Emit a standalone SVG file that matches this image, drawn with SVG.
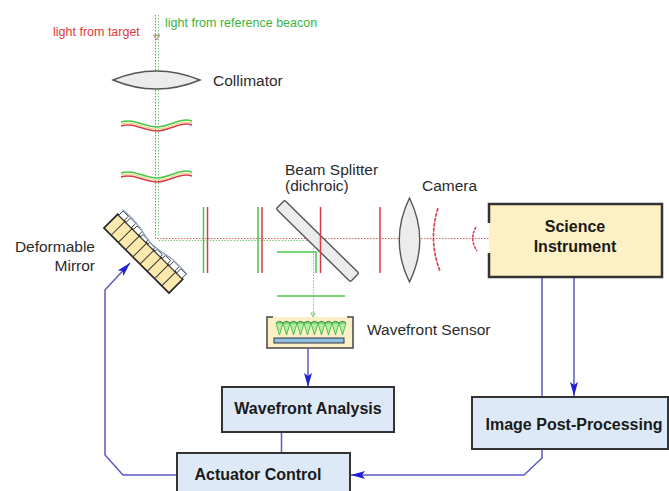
<svg xmlns="http://www.w3.org/2000/svg" width="669" height="491" viewBox="0 0 669 491">
  <style>
    text { font-family: "Liberation Sans", Arial, Helvetica, sans-serif; }
    .lbl { font-size: 15.5px; fill: #2b2b2b; }
    .bold { font-size: 16px; font-weight: bold; fill: #1a1a1a; }
    .small { font-size: 12.5px; }
    .box { fill: #dde9f7; stroke: #333; stroke-width: 2; }
    .link { fill: none; stroke: #5a5ac8; stroke-width: 1.5; }
    .beamR { fill: none; stroke: #d86060; stroke-width: 1; stroke-dasharray: 1.5 1.5; }
    .beamG { fill: none; stroke: #7ccc7c; stroke-width: 1; stroke-dasharray: 1.5 1.5; }
    .red { fill: none; stroke: #d83c4c; stroke-width: 1.5; }
    .green { fill: none; stroke: #48c848; stroke-width: 1.5; }
    .glass { fill: #ececec; stroke: #555; stroke-width: 1.4; }
  </style>
  <defs>
    <marker id="arrow" viewBox="0 0 14 8" refX="14" refY="4" markerWidth="14" markerHeight="8" markerUnits="userSpaceOnUse" orient="auto">
      <path d="M0,0 L14,4 L0,8 L3,4 z" fill="#2020d8"/>
    </marker>
  </defs>

  <rect width="669" height="491" fill="#ffffff"/>

  <!-- incoming light -->
  <text class="small" x="53" y="36" fill="#e03a3a">light from target</text>
  <text class="small" x="165" y="27" fill="#3cb43c">light from reference beacon</text>

  <!-- beam paths -->
  <g id="beams">
    <path class="beamR" d="M155.5,15 V238.5 H492"/>
    <path class="beamG" d="M158.5,15 V236 M158.5,240.5 H313.5 V316"/>
    <path d="M153.5,35 L160,35 L156.7,40 z" fill="none" stroke="#d86060" stroke-width="0.8"/>
    <path d="M155,35.5 L159,35.5 L157,38.5" fill="none" stroke="#60c060" stroke-width="0.8"/>
  </g>

  <!-- collimator -->
  <g id="collimator">
    <path class="glass" d="M113,80 Q156,62 200,80 Q156,98 113,80 z"/>
    <text class="lbl" x="213" y="86">Collimator</text>
  </g>

  <!-- distorted wavefronts -->
  <g id="wavefronts">
    <path class="green" d="M121,122 C133,118 145,127 157,127 C169,127 180,117 192,121"/>
    <path d="M121,124 C133,120 145,129 157,129 C169,129 180,119 192,123" fill="none" stroke="#e8d070" stroke-width="1"/>
    <path class="red" d="M121,126 C133,122 145,131 157,131 C169,131 180,121 192,125"/>
    <path class="green" d="M121,173 C133,169 145,178 157,178 C169,178 180,168 192,172"/>
    <path d="M121,175 C133,171 145,180 157,180 C169,180 180,170 192,174" fill="none" stroke="#e8d070" stroke-width="1"/>
    <path class="red" d="M121,177 C133,173 145,182 157,182 C169,182 180,172 192,176"/>
  </g>

  <!-- deformable mirror -->
  <g id="deformable-mirror">
    <g transform="translate(146,251) rotate(45)">
      <rect x="-46" y="-6" width="92" height="19.5" fill="#fbe9ae" stroke="#2a2a2a" stroke-width="1.7"/>
      <path d="M-35.8,-6 V13.5 M-25.6,-6 V13.5 M-15.3,-6 V13.5 M-5.1,-6 V13.5 M5.1,-6 V13.5 M15.3,-6 V13.5 M25.6,-6 V13.5 M35.8,-6 V13.5" stroke="#3a3a3a" stroke-width="1"/>
      <g fill="#ffffff" stroke="#333" stroke-width="0.9">
        <rect x="-44.5" y="-12" width="7.5" height="6"/>
        <rect x="-34.3" y="-12.5" width="7.5" height="6.5"/>
        <rect x="-24" y="-11.5" width="7.5" height="5.5"/>
        <rect x="-13.8" y="-9.5" width="7.5" height="3.5"/>
        <rect x="-3.6" y="-8.5" width="7.5" height="2.5"/>
        <rect x="6.6" y="-9" width="7.5" height="3"/>
        <rect x="16.8" y="-10.5" width="7.5" height="4.5"/>
        <rect x="27" y="-12.5" width="7.5" height="6.5"/>
        <rect x="37.2" y="-12" width="7.5" height="6"/>
      </g>
      <path d="M-46,-12.5 C-38,-13.5 -30,-13.5 -20,-12 C-12,-10.5 -6,-8.5 0,-9 C8,-9.5 14,-11 22,-12.5 C30,-13.5 38,-13 46,-12.5" fill="none" stroke="#8ea4c4" stroke-width="1.3"/>
    </g>
    <text class="lbl" x="95" y="252" text-anchor="end">Deformable</text>
    <text class="lbl" x="95" y="271" text-anchor="end">Mirror</text>
  </g>

  <!-- relay plates -->
  <g id="plates">
    <path class="green" d="M203.5,207 V273 M258,207 V273"/>
    <path class="red" d="M207.5,207 V273 M262,207 V273"/>
  </g>

  <!-- beam splitter -->
  <g id="beam-splitter">
    <rect x="-52" y="-6" width="104" height="12" rx="1.5" class="glass" transform="translate(317.5,241) rotate(44.5)"/>
    <path class="red" d="M320.5,207 V273"/>
    <path class="green" d="M277,252 H316 V273"/>
    <path class="green" d="M277,296 H345"/>
    <text class="lbl" x="285" y="175">Beam Splitter</text>
    <text class="lbl" x="285" y="191">(dichroic)</text>
  </g>

  <!-- camera optics -->
  <g id="camera">
    <path class="red" d="M380,207 V273"/>
    <path class="glass" d="M409.5,198 Q389,240 409.5,282 Q430,240 409.5,198 z"/>
    <path d="M438,208 Q428,240 440,271" fill="none" stroke="#d83c4c" stroke-width="1.6" stroke-dasharray="4 1"/>
    <path d="M476,227 Q469,239 477,251" fill="none" stroke="#d83c4c" stroke-width="1.5" stroke-dasharray="3 1"/>
    <path d="M492,236 L500,238.5 L492,241 z" fill="none" stroke="#e08850" stroke-width="1"/>
    <text class="lbl" x="422" y="191">Camera</text>
  </g>

  <!-- wavefront sensor -->
  <g id="wavefront-sensor">
    <rect x="267" y="317" width="86" height="31" fill="#fdf0c8"/>
    <path d="M273,317 H267 V348 H353 V317 H347" fill="none" stroke="#444" stroke-width="1.5"/>
    <path d="M276,323 L279.5,335 L283,323 L286.5,335 L290,323 L293.5,335 L297,323 L300.5,335 L304,323 L307.5,335 L311,323 L314.5,335 L318,323 L321.5,335 L325,323 L328.5,335 L332,323 L335.5,335 L339,323 L342.5,335 L346,323 z" fill="#b6f0a8" stroke="#40b840" stroke-width="0.9"/>
    <path d="M276,323 Q279.5,319.5 283,323 Q286.5,319.5 290,323 Q293.5,319.5 297,323 Q300.5,319.5 304,323 Q307.5,319.5 311,323 Q314.5,319.5 318,323 Q321.5,319.5 325,323 Q328.5,319.5 332,323 Q335.5,319.5 339,323 Q342.5,319.5 346,323" fill="#7cc87c" stroke="#3a8a3a" stroke-width="0.9"/>
    <rect x="274" y="338" width="70" height="5" fill="#8ec0e0" stroke="#334" stroke-width="1"/>
    <path d="M311,313 L315,313 L313,317 z" fill="none" stroke="#60c060" stroke-width="0.8"/>
    <text class="lbl" x="367" y="335">Wavefront Sensor</text>
  </g>

  <!-- control connectors -->
  <g id="connectors">
    <path class="link" d="M308,348 V387" marker-end="url(#arrow)"/>
    <path class="link" d="M281.5,432 V453"/>
    <path class="link" d="M574,277 V396" marker-end="url(#arrow)"/>
    <path class="link" d="M542,277 V458 L524,475 H351" marker-end="url(#arrow)"/>
    <path class="link" d="M177,475 H123 L105,455 V290 L130,263" marker-end="url(#arrow)"/>
  </g>

  <!-- processing nodes -->
  <g id="science-instrument">
    <rect x="489" y="204" width="173" height="73" fill="#fdf0c4"/>
    <path d="M489,223 V204 H662 V277 H489 V253" fill="none" stroke="#333" stroke-width="2.5"/>
    <text class="bold" x="575" y="232" text-anchor="middle">Science</text>
    <text class="bold" x="575" y="252" text-anchor="middle">Instrument</text>
  </g>

  <g id="wavefront-analysis">
    <rect class="box" x="222" y="387" width="172" height="45"/>
    <text class="bold" x="308" y="414" text-anchor="middle">Wavefront Analysis</text>
  </g>

  <g id="image-post-processing">
    <rect class="box" x="472" y="397" width="196" height="52"/>
    <text class="bold" x="574" y="430" text-anchor="middle">Image Post-Processing</text>
  </g>

  <g id="actuator-control">
    <rect class="box" x="177" y="453" width="173" height="45"/>
    <text class="bold" x="258" y="479.5" text-anchor="middle">Actuator Control</text>
  </g>
</svg>
